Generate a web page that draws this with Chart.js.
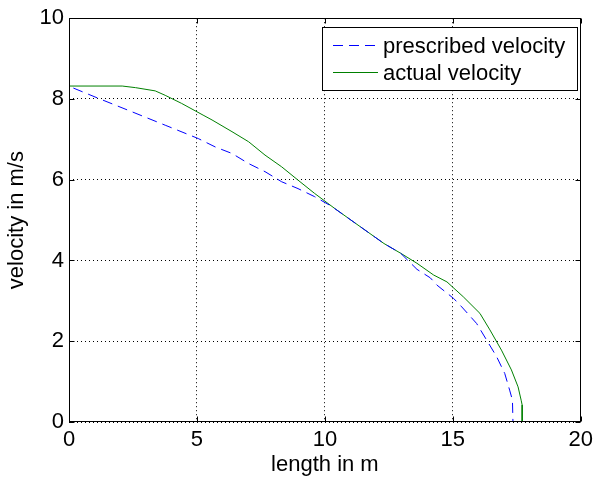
<!DOCTYPE html>
<html>
<head>
<meta charset="utf-8">
<script src="https://cdn.jsdelivr.net/npm/chart.js@4"></script>
<style>
  html, body { margin: 0; padding: 0; background: #fff; }
  canvas { display: block; }
</style>
</head>
<body>
<canvas id="chart" width="598" height="479"></canvas>
<script>
// values
const prescribedX = [0.17, 1.17, 2.47, 3.76, 5.05, 5.72, 6.37, 7.02, 7.66, 8.31, 8.95, 9.6, 10.24, 11.02, 12.31, 12.96, 13.6, 14.12, 14.38, 15.03, 15.35, 15.93, 16.32, 16.71, 17.03, 17.22, 17.33, 17.35];
const prescribedY = [8.27, 8.01, 7.68, 7.35, 7.02, 6.81, 6.65, 6.4, 6.2, 5.95, 5.78, 5.58, 5.35, 5.0, 4.42, 4.18, 3.78, 3.57, 3.39, 3.06, 2.85, 2.44, 2.03, 1.62, 1.2, 0.79, 0.54, 0];

const actualX = [0, 2.08, 2.6, 3.37, 3.76, 4.4, 5.24, 5.59, 6.37, 7.02, 7.66, 8.31, 8.95, 9.6, 10.38, 11.02, 12.31, 12.96, 13.6, 14.25, 14.77, 15.41, 16.06, 16.45, 16.9, 17.29, 17.55, 17.67, 17.71, 17.71];
const actualY = [8.32, 8.32, 8.28, 8.2, 8.09, 7.89, 7.6, 7.48, 7.19, 6.94, 6.61, 6.32, 5.99, 5.66, 5.29, 5.0, 4.42, 4.18, 3.93, 3.64, 3.47, 3.1, 2.69, 2.28, 1.78, 1.29, 0.87, 0.54, 0.42, 0];

const xTicks = [0, 5, 10, 15, 20];
const yTicks = [0, 2, 4, 6, 8, 10];

const seriesLabels = ['prescribed velocity', 'actual velocity'];

const FONT = 'Liberation Sans, Arial, sans-serif';

const toPoints = (xs, ys) => xs.map((x, i) => ({ x, y: ys[i] }));

// matlab style box with inward tick marks
const boxPlugin = {
    id: 'matlabBox',
    afterDatasetsDraw(chart) {
        const { ctx, chartArea: a, scales } = chart;
        const L = Math.round(a.left) + 0.5, R = Math.round(a.right) - 0.5;
        const T = Math.round(a.top) + 0.5, B = Math.round(a.bottom) - 0.5;
        ctx.save();
        ctx.strokeStyle = '#000';
        ctx.lineWidth = 1;
        ctx.setLineDash([]);
        ctx.strokeRect(L, T, R - L, B - T);
        const len = 5;
        ctx.beginPath();
        xTicks.forEach(v => {
            const px = Math.round(scales.x.getPixelForValue(v)) + 0.5;
            ctx.moveTo(px, B); ctx.lineTo(px, B - len);
            ctx.moveTo(px, T); ctx.lineTo(px, T + len);
        });
        yTicks.forEach(v => {
            const py = Math.round(scales.y.getPixelForValue(v)) + 0.5;
            ctx.moveTo(L, py); ctx.lineTo(L + len, py);
            ctx.moveTo(R, py); ctx.lineTo(R - len, py);
        });
        ctx.stroke();
        ctx.restore();
    },
    afterDraw(chart) {
        const { ctx } = chart;
        const box = { left: 322, top: 27, right: 578, bottom: 91 };
        ctx.save();
        ctx.fillStyle = '#fff';
        ctx.fillRect(box.left, box.top, box.right - box.left, box.bottom - box.top);
        ctx.strokeStyle = '#000';
        ctx.lineWidth = 1;
        ctx.strokeRect(box.left + 0.5, box.top + 0.5, box.right - box.left - 1, box.bottom - box.top - 1);
        ctx.font = '22px ' + FONT;
        ctx.textBaseline = 'middle';
        ctx.textAlign = 'left';
        chart.data.datasets.forEach((ds, i) => {
            const ly = 45 + i * 27;
            ctx.beginPath();
            ctx.strokeStyle = ds.borderColor;
            ctx.setLineDash(ds.borderDash || []);
            ctx.moveTo(333, ly + 0.5);
            ctx.lineTo(378, ly + 0.5);
            ctx.stroke();
            ctx.setLineDash([]);
            ctx.fillStyle = '#000';
            ctx.fillText(ds.label, 383, ly + 1.5);
        });
        ctx.restore();
    }
};

new Chart(document.getElementById('chart'), {
    type: 'scatter',
    data: {
        datasets: [
            {
                label: seriesLabels[0],
                data: toPoints(prescribedX, prescribedY),
                showLine: true,
                borderColor: '#0000ff',
                borderWidth: 1,
                borderDash: [10, 6],
                pointRadius: 0,
                tension: 0
            },
            {
                label: seriesLabels[1],
                data: toPoints(actualX, actualY),
                showLine: true,
                borderColor: '#008000',
                borderWidth: 1,
                pointRadius: 0,
                tension: 0
            }
        ]
    },
    options: {
        responsive: false,
        animation: false,
        layout: { padding: { left: 0, top: 18, right: 13, bottom: 0 } },
        plugins: { legend: { display: false }, tooltip: { enabled: false } },
        scales: {
            x: {
                type: 'linear',
                min: 0,
                max: 20,
                afterBuildTicks: s => { s.ticks = xTicks.map(v => ({ value: v })); },
                afterFit: s => { s.height = 57; },
                grid: {
                    color: '#000',
                    lineWidth: 1,
                    drawTicks: false,
                    tickBorderDash: [1, 3]
                },
                border: { display: false, dash: [1, 3] },
                ticks: { color: '#000', padding: 5, maxRotation: 0, font: { family: FONT, size: 22 } },
                title: {
                    display: true,
                    text: 'length in m',
                    color: '#000',
                    padding: { top: 0, bottom: 1 },
                    font: { family: FONT, size: 22 }
                }
            },
            y: {
                type: 'linear',
                min: 0,
                max: 10,
                afterBuildTicks: s => { s.ticks = yTicks.map(v => ({ value: v })); },
                afterFit: s => { s.width = 69; },
                grid: {
                    color: '#000',
                    lineWidth: 1,
                    drawTicks: false
                },
                border: { display: false, dash: [1, 3] },
                ticks: { color: '#000', padding: 5, font: { family: FONT, size: 22 } },
                title: {
                    display: true,
                    text: 'velocity in m/s',
                    color: '#000',
                    padding: { top: 4, bottom: 0 },
                    font: { family: FONT, size: 22 }
                }
            }
        }
    },
    plugins: [boxPlugin]
});
</script>
</body>
</html>
